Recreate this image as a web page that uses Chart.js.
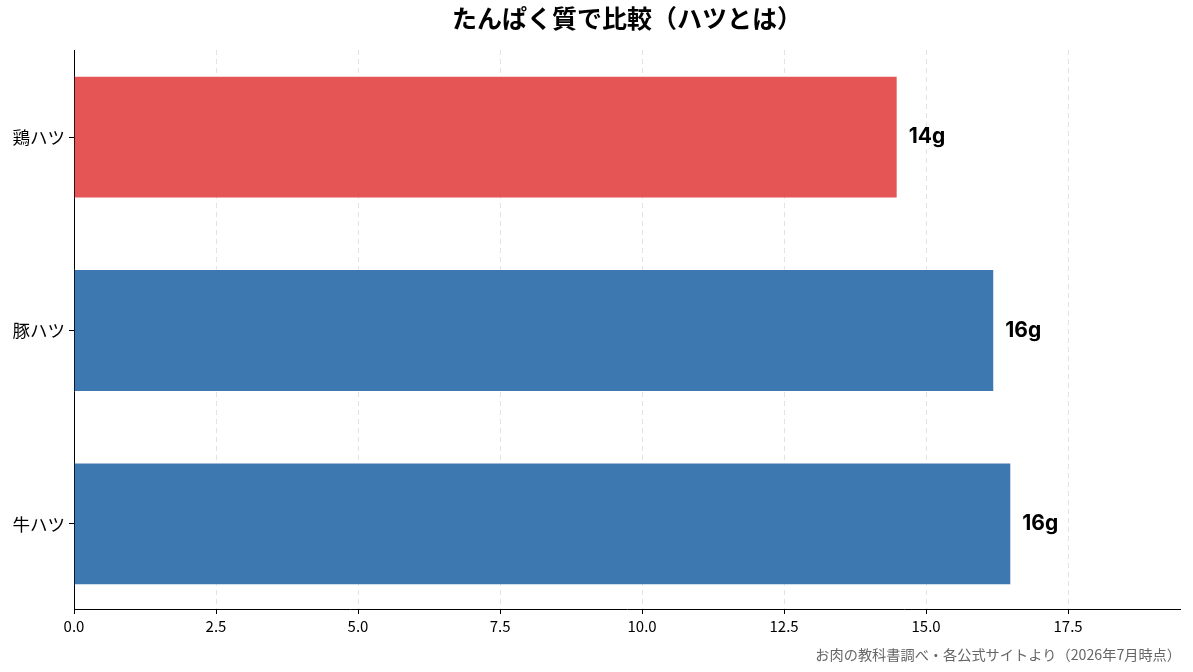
<!DOCTYPE html>
<html lang="ja">
<head>
<meta charset="utf-8">
<title>たんぱく質で比較（ハツとは）</title>
<script src="https://cdn.jsdelivr.net/npm/chart.js@4"></script>
<style>
  html, body { margin: 0; padding: 0; background: #fff; }
  #wrap { width: 1193px; height: 672px; }
</style>
</head>
<body>
<div id="wrap"><canvas id="proteinChart"></canvas></div>
<script>
// Data
const categories = ['鶏ハツ', '豚ハツ', '牛ハツ'];
const proteinValues = [14.5, 16.2, 16.5];
const valueLabels = ['14g', '16g', '16g'];
const barColors = ['rgba(228,70,71,0.92)', 'rgba(46,108,170,0.92)', 'rgba(46,108,170,0.92)'];
const xTicks = [0, 2.5, 5, 7.5, 10, 12.5, 15, 17.5];
const sourceNote = 'お肉の教科書調べ・各公式サイトより（2026年7月時点）';

const FONT = '"Noto Sans CJK JP", "Noto Sans", sans-serif';

// Value labels to the right of each bar + source note
const labelPlugin = {
    id: 'labelPlugin',
    afterDatasetsDraw(chart) {
        const ctx = chart.ctx;
        const meta = chart.getDatasetMeta(0);
        ctx.save();
        ctx.font = 'bold 21px Inter, ' + FONT;
        ctx.fillStyle = '#000';
        ctx.textAlign = 'left';
        ctx.textBaseline = 'middle';
        meta.data.forEach((bar, i) => {
            ctx.fillText(valueLabels[i], bar.x + 11, bar.y);
        });
        ctx.restore();
    },
    afterDraw(chart) {
        const ctx = chart.ctx;
        ctx.save();
        ctx.font = '14.2px ' + FONT;
        ctx.fillStyle = '#666';
        ctx.textAlign = 'right';
        ctx.textBaseline = 'middle';
        ctx.fillText(sourceNote, 1181, 655);
        ctx.restore();
    }
};

const ctx = document.getElementById('proteinChart').getContext('2d');
const proteinChart = new Chart(ctx, {
    type: 'bar',
    data: {
        datasets: [{
            data: proteinValues.map((v, i) => ({ x: v, y: i })),
            backgroundColor: barColors,
            borderColor: 'rgba(255,255,255,0.6)',
            borderWidth: 1,
            barPercentage: 1,
            categoryPercentage: 0.635
        }]
    },
    options: {
        indexAxis: 'y',
        responsive: true,
        maintainAspectRatio: false,
        animation: false,
        layout: { padding: { left: 0, right: 13, top: 0, bottom: 24 } },
        plugins: {
            legend: { display: false },
            tooltip: { enabled: false },
            title: {
                display: true,
                text: 'たんぱく質で比較（ハツとは）',
                fullSize: false,
                color: '#000',
                font: { family: FONT, size: 25, weight: 'bold' },
                padding: { top: 3, bottom: 17 }
            }
        },
        scales: {
            x: {
                type: 'linear',
                min: 0,
                max: 19.47,
                afterBuildTicks: scale => {
                    scale.ticks = xTicks.map(v => ({ value: v }));
                },
                afterFit: scale => { scale.height = 39; },
                ticks: {
                    color: '#000',
                    font: { family: FONT, size: 15 },
                    padding: 3,
                    callback: v => Number(v).toFixed(1)
                },
                grid: {
                    color: '#e3e3e3',
                    tickColor: '#000',
                    tickLength: 5,
                    lineWidth: 1
                },
                border: { display: true, color: '#000', width: 1, dash: [5, 4] }
            },
            y: {
                type: 'linear',
                reverse: true,
                offset: false,
                min: -0.45,
                max: 2.44,
                afterBuildTicks: scale => {
                    scale.ticks = categories.map((c, i) => ({ value: i }));
                },
                afterFit: scale => { scale.width = 74; },
                ticks: {
                    color: '#000',
                    font: { family: FONT, size: 17.5 },
                    padding: 4,
                    callback: v => categories[v]
                },
                grid: {
                    offset: false,
                    drawOnChartArea: false,
                    tickColor: '#000',
                    tickLength: 5
                },
                border: { display: true, color: '#000', width: 1 }
            }
        }
    },
    plugins: [labelPlugin]
});
</script>
</body>
</html>
